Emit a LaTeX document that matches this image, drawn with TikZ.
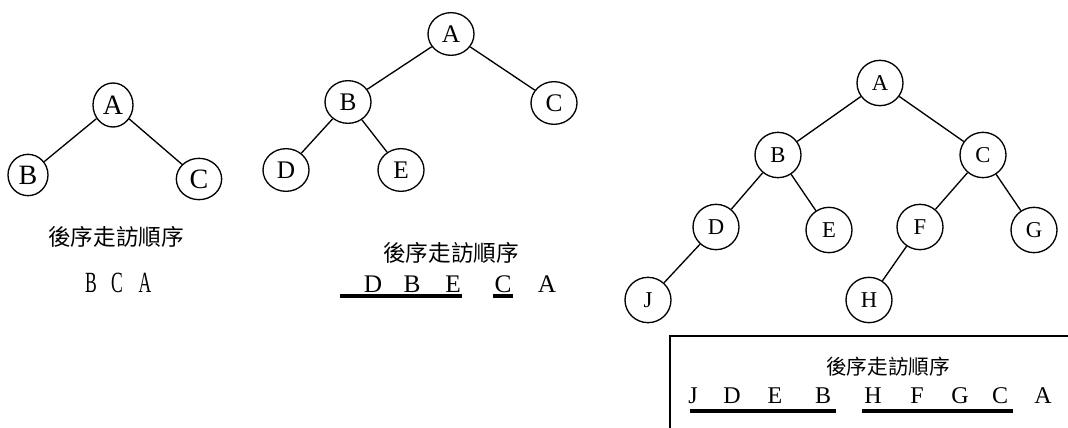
\documentclass[tikz,border=0pt]{standalone}
\usepackage{fontspec}
\setmainfont{Liberation Serif}
\newfontfamily\cjk{Noto Sans CJK TC}
\usetikzlibrary{shapes.geometric}

\tikzset{
  nd/.style={draw, ellipse, inner sep=0pt, line width=1pt},
  ndA/.style={nd, minimum width=30pt, minimum height=31pt, font=\fontsize{21}{21}\selectfont},
  ndB/.style={nd, minimum width=34.5pt, minimum height=32pt, font=\fontsize{19}{19}\selectfont},
  ndC/.style={nd, minimum width=34.5pt, minimum height=34pt, font=\fontsize{17}{17}\selectfont},
  captxt/.style={font=\cjk\fontsize{17}{17}\selectfont},
  uline/.style={line width=2.6pt}
}

\begin{document}
\begin{tikzpicture}[x=0.75pt, y=-0.75pt, line width=1pt]
  \useasboundingbox (0,0) rectangle (1068,428);

  % 第一棵树：A B C
  \node[ndA, minimum height=33pt] (a1) at (113,105) {A};
  \node[ndA] (b1) at (28,175) {B};
  \node[ndA, minimum width=34pt] (c1) at (199,179) {C};
  \draw (a1) -- (b1);
  \draw (a1) -- (c1);
  \node[captxt] (cap1) at (116,237) {後序走訪順序};
  \node[font=\fontsize{22}{22}\selectfont] (s1b) at (91,283) {\scalebox{0.6}[1]{B}};
  \node[font=\fontsize{22}{22}\selectfont] (s1c) at (117,283) {\scalebox{0.6}[1]{C}};
  \node[font=\fontsize{22}{22}\selectfont] (s1a) at (145,283) {\scalebox{0.6}[1]{A}};

  % 第二棵树：A B C D E
  \node[ndB] (a2) at (451,34) {A};
  \node[ndB] (b2) at (348,102) {B};
  \node[ndB] (c2) at (554,103) {C};
  \node[ndB] (d2) at (286,170) {D};
  \node[ndB] (e2) at (401,170) {E};
  \draw (a2) -- (b2);
  \draw (a2) -- (c2);
  \draw (b2) -- (d2);
  \draw (b2) -- (e2);
  \node[captxt] (cap2) at (451,253) {後序走訪順序};
  \foreach \t/\x in {D/373, B/412, E/453, C/503, A/547}
    \node[font=\fontsize{19}{19}\selectfont, anchor=base] (s2\t) at (\x,292) {\t};
  \coordinate (u2a) at (340,296);
  \coordinate (u2b) at (462,296);
  \coordinate (u2c) at (493,296);
  \coordinate (u2d) at (513,296);
  \draw[uline] (u2a) -- (u2b);
  \draw[uline] (u2c) -- (u2d);

  % 第三棵树：A ~ J
  \node[ndC] (a3) at (880,83) {A};
  \node[ndC] (b3) at (778,155) {B};
  \node[ndC] (c3) at (983,155) {C};
  \node[ndC] (d3) at (716,227) {D};
  \node[ndC] (e3) at (829,230) {E};
  \node[ndC] (f3) at (920,227) {F};
  \node[ndC] (g3) at (1034,230) {G};
  \node[ndC] (j3) at (648,300) {J};
  \node[ndC] (h3) at (869,300) {H};
  \draw (a3) -- (b3);
  \draw (a3) -- (c3);
  \draw (b3) -- (d3);
  \draw (b3) -- (e3);
  \draw (c3) -- (f3);
  \draw (c3) -- (g3);
  \draw (d3) -- (j3);
  \draw (f3) -- (h3);

  % 结果框（右侧和下方开口）
  \coordinate (bx1) at (1068,336);
  \coordinate (bx2) at (670,336);
  \coordinate (bx3) at (670,428);
  \draw (bx1) -- (bx2) -- (bx3);
  \node[captxt, font=\cjk\fontsize{15.5}{15.5}\selectfont] (cap3) at (888,367) {後序走訪順序};
  \foreach \t/\x in {J/693, D/732, E/775, B/823, H/873, F/917, G/960, C/1000, A/1043}
    \node[font=\fontsize{18}{18}\selectfont, anchor=base] (s3\t) at (\x,403) {\t};
  \coordinate (u3a) at (690,411);
  \coordinate (u3b) at (836,411);
  \coordinate (u3c) at (862,411);
  \coordinate (u3d) at (1013,411);
  \draw[uline] (u3a) -- (u3b);
  \draw[uline] (u3c) -- (u3d);
\end{tikzpicture}
\end{document}
